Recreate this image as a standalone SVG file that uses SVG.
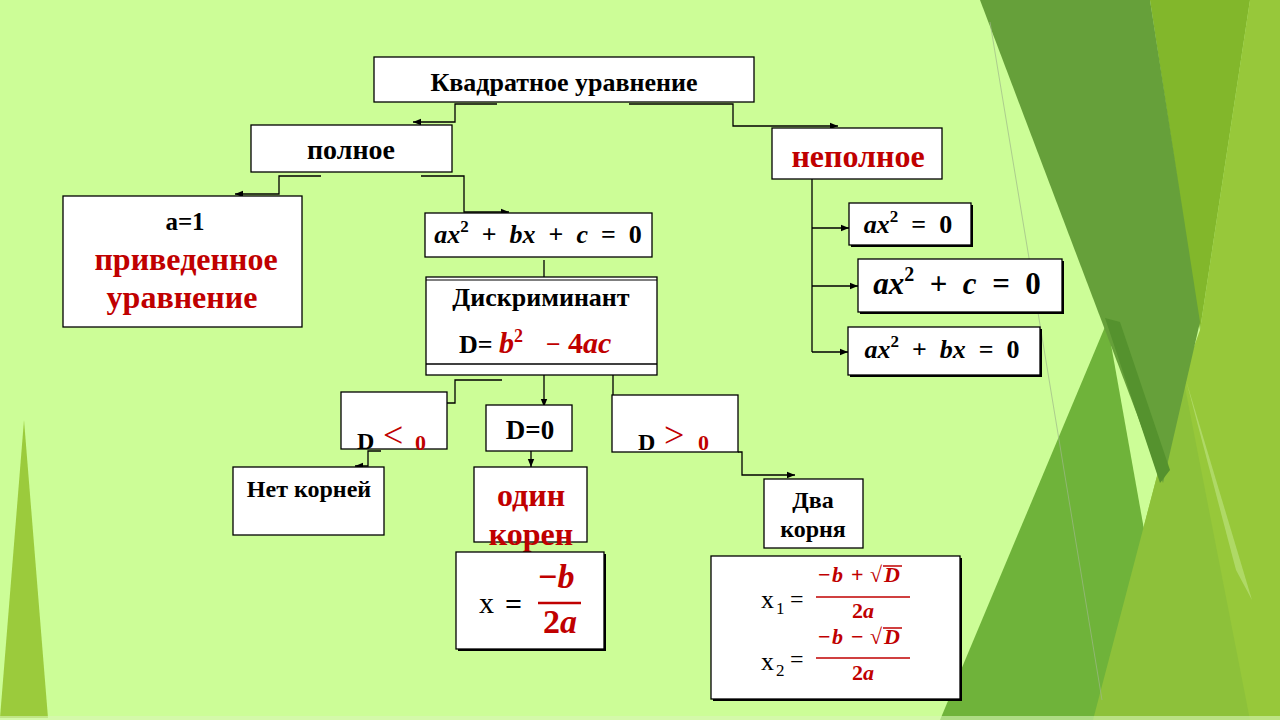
<svg xmlns="http://www.w3.org/2000/svg" width="1280" height="720" viewBox="0 0 1280 720">
<defs>
<style>
.box{fill:#fff;stroke:#000;stroke-width:1.3}
.sh{fill:#000}
.t{font-family:"Liberation Serif","Times New Roman",serif;font-weight:bold;fill:#000}
.n{font-weight:normal}
.r{fill:#C00000}
.i{font-style:italic}
.mid{text-anchor:middle}
.c{fill:none;stroke:#000;stroke-width:1.3}
</style>
<marker id="ah" markerWidth="9" markerHeight="8" refX="8" refY="4" orient="auto" markerUnits="userSpaceOnUse">
<path d="M0,0.8 L8,4 L0,7.2 z" fill="#000"/>
</marker>
</defs>
<g id="background">
<rect x="0" y="0" width="1280" height="720" fill="#CCFD97"/>
<polygon points="24,420 0,718 48,718" fill="#9BCB3C"/>
<polygon points="1250,0 1280,0 1280,720 1093,720 1183,377 1200,330" fill="#97C83A"/>
<polygon points="1150,0 1250,0 1200,330" fill="#82B72B"/>
<polygon points="1107,322 940,720 1178,720" fill="#6FB33A"/>
<polygon points="1183,377 1093,720 1250,720" fill="#8DC13A"/>
<polygon points="1186,380 1252,600 1236,570" fill="#B5DD72" opacity="0.8"/>
<polygon points="980,0 1150,0 1200,322 1163,483" fill="#66A03A"/>
<polygon points="1105,318 1120,322 1170,470 1160,483" fill="#55922E"/>
<line x1="990" y1="22" x2="1102" y2="700" stroke="#9FB98A" stroke-width="1" opacity="0.7"/>
<rect x="0" y="716" width="1280" height="4" fill="#D8F7B8" opacity="0.6"/>
</g>
<g id="connectors">
<path class="c" d="M497,104 H455 V122 H413" marker-end="url(#ah)"/>
<path class="c" d="M629,104 H733 V126 H838" marker-end="url(#ah)"/>
<path class="c" d="M321,176 H279 V194 H235" marker-end="url(#ah)"/>
<path class="c" d="M421,176 H464 V212 H509" marker-end="url(#ah)"/>
<path class="c" d="M544,260 V290" marker-end="url(#ah)"/>
<path class="c" d="M502,380 H455 V403 H407" marker-end="url(#ah)"/>
<path class="c" d="M544,375 V407" marker-end="url(#ah)"/>
<path class="c" d="M583,373 H613 V400 H640" marker-end="url(#ah)"/>
<path class="c" d="M381,451 H368 V466 H355" marker-end="url(#ah)"/>
<path class="c" d="M531,451 V467" marker-end="url(#ah)"/>
<path class="c" d="M738,452 H742 V475 H795" marker-end="url(#ah)"/>
<path class="c" d="M812,179 V352"/>
<path class="c" d="M812,228 H849" marker-end="url(#ah)"/>
<path class="c" d="M812,286 H858" marker-end="url(#ah)"/>
<path class="c" d="M812,352 H848" marker-end="url(#ah)"/>
</g>
<g id="root">
<rect class="box" x="374" y="57" width="380" height="45"/>
<text class="t mid" x="564" y="91" font-size="26">Квадратное уравнение</text>
</g>
<g id="full">
<rect class="box" x="251" y="125" width="201" height="47"/>
<text class="t mid" x="351" y="159" font-size="28">полное</text>
</g>
<g id="incomplete">
<rect class="box" x="772" y="128" width="170" height="51"/>
<text class="t r mid" x="858" y="167" font-size="32">неполное</text>
</g>
<g id="reduced">
<rect class="box" x="63" y="196" width="239" height="131"/>
<text class="t mid" x="185" y="230" font-size="25">a=1</text>
<text class="t r mid" x="186" y="270" font-size="32">приведенное</text>
<text class="t r mid" x="182" y="308" font-size="32">уравнение</text>
</g>
<g id="general">
<rect class="box" x="425" y="213" width="227" height="44"/>
<text class="t mid" x="538" y="243" font-size="26"><tspan class="i">ax</tspan><tspan dy="-11" font-size="17">2</tspan><tspan dy="11">&#8194;+&#8194;</tspan><tspan class="i">bx</tspan>&#8194;+&#8194;<tspan class="i">c</tspan>&#8194;=&#8194;0</text>
</g>
<g id="discriminant">
<rect class="box" x="426" y="277" width="231" height="98"/>
<line x1="426" y1="280" x2="657" y2="280" stroke="#000" stroke-width="1"/>
<line x1="426" y1="364" x2="657" y2="364" stroke="#000" stroke-width="1.3"/>
<text class="t mid" x="541" y="306" font-size="26">Дискриминант</text>
<text class="t" x="459" y="353" font-size="26">D=</text>
<text class="t r" y="353" font-size="30"><tspan class="i" x="499">b</tspan><tspan x="514" y="342" font-size="18">2</tspan><tspan x="546" y="353" font-size="26">−</tspan><tspan x="568">4</tspan><tspan class="i">ac</tspan></text>
</g>
<g id="a2">
<rect class="sh" x="851" y="205" width="122" height="42"/>
<rect class="box" x="849" y="203" width="122" height="42"/>
<text class="t mid" x="908" y="233" font-size="26"><tspan class="i">ax</tspan><tspan dy="-11" font-size="17">2</tspan><tspan dy="11">&#8194;=&#8194;0</tspan></text>
</g>
<g id="a2c">
<rect class="sh" x="860" y="261" width="204" height="53"/>
<rect class="box" x="858" y="259" width="204" height="53"/>
<text class="t mid" x="957" y="294" font-size="31"><tspan class="i">ax</tspan><tspan dy="-13" font-size="20">2</tspan><tspan dy="13">&#8194;+&#8194;</tspan><tspan class="i">c</tspan>&#8194;=&#8194;0</text>
</g>
<g id="a2bx">
<rect class="sh" x="850" y="329" width="192" height="48"/>
<rect class="box" x="848" y="327" width="192" height="48"/>
<text class="t mid" x="942" y="358" font-size="26"><tspan class="i">ax</tspan><tspan dy="-11" font-size="17">2</tspan><tspan dy="11">&#8194;+&#8194;</tspan><tspan class="i">bx</tspan>&#8194;=&#8194;0</text>
</g>
<g id="dneg">
<rect class="box" x="341" y="392" width="106" height="57"/>
<text class="t" x="357" y="449" font-size="24">D</text>
<text class="t n r" x="383" y="447" font-size="36">&lt;</text>
<text class="t r" x="415" y="450" font-size="22">0</text>
</g>
<g id="dzero">
<rect class="box" x="486" y="405" width="86" height="46"/>
<text class="t mid" x="530" y="439" font-size="27">D=0</text>
</g>
<g id="dpos">
<rect class="box" x="612" y="395" width="126" height="57"/>
<text class="t" x="638" y="450" font-size="24">D</text>
<text class="t n r" x="664" y="447" font-size="36">&gt;</text>
<text class="t r" x="698" y="450" font-size="22">0</text>
</g>
<g id="noroots">
<rect class="box" x="233" y="467" width="151" height="68"/>
<text class="t mid" x="309" y="497" font-size="24">Нет корней</text>
</g>
<g id="oneroot">
<rect class="box" x="474" y="467" width="113" height="75"/>
<text class="t r mid" x="531" y="506" font-size="32">один</text>
<text class="t r mid" x="531" y="545" font-size="32">корен</text>
</g>
<g id="tworoots">
<rect class="box" x="764" y="479" width="99" height="69"/>
<text class="t mid" x="813" y="508" font-size="24">Два</text>
<text class="t mid" x="813" y="537" font-size="24">корня</text>
</g>
<g id="formula1">
<rect class="sh" x="458" y="554" width="148" height="97"/>
<rect class="box" x="456" y="552" width="148" height="97"/>
<text class="t n" x="479" y="613" font-size="30">x</text>
<text class="t" x="505" y="614" font-size="30">=</text>
<text class="t r" x="538" y="588" font-size="34">−<tspan class="i">b</tspan></text>
<line x1="538" y1="603" x2="581" y2="603" stroke="#C00000" stroke-width="2.5"/>
<text class="t r mid" x="560" y="633" font-size="34">2<tspan class="i">a</tspan></text>
</g>
<g id="formula2">
<rect class="sh" x="713" y="558" width="249" height="143"/>
<rect class="box" x="711" y="556" width="249" height="143"/>
<text class="t n" x="761" y="608" font-size="26">x<tspan x="776" y="614" font-size="17">1</tspan></text>
<text class="t n" x="790" y="607" font-size="24">=</text>
<text class="t r" y="582" font-size="22"><tspan x="818">−</tspan><tspan class="i" x="832">b</tspan><tspan x="851">+</tspan><tspan x="870">√</tspan><tspan class="i" x="884">D</tspan></text>
<line x1="883" y1="566" x2="902" y2="566" stroke="#C00000" stroke-width="1.5"/>
<line x1="816" y1="597" x2="910" y2="597" stroke="#C00000" stroke-width="1.3"/>
<text class="t r mid" x="863" y="618" font-size="22">2<tspan class="i">a</tspan></text>
<text class="t n" x="761" y="670" font-size="26">x<tspan x="776" y="676" font-size="17">2</tspan></text>
<text class="t n" x="790" y="667" font-size="24">=</text>
<text class="t r" y="644" font-size="22"><tspan x="818">−</tspan><tspan class="i" x="832">b</tspan><tspan x="851">−</tspan><tspan x="870">√</tspan><tspan class="i" x="884">D</tspan></text>
<line x1="883" y1="628" x2="902" y2="628" stroke="#C00000" stroke-width="1.5"/>
<line x1="816" y1="658" x2="910" y2="658" stroke="#C00000" stroke-width="1.3"/>
<text class="t r mid" x="863" y="680" font-size="22">2<tspan class="i">a</tspan></text>
</g>
</svg>
